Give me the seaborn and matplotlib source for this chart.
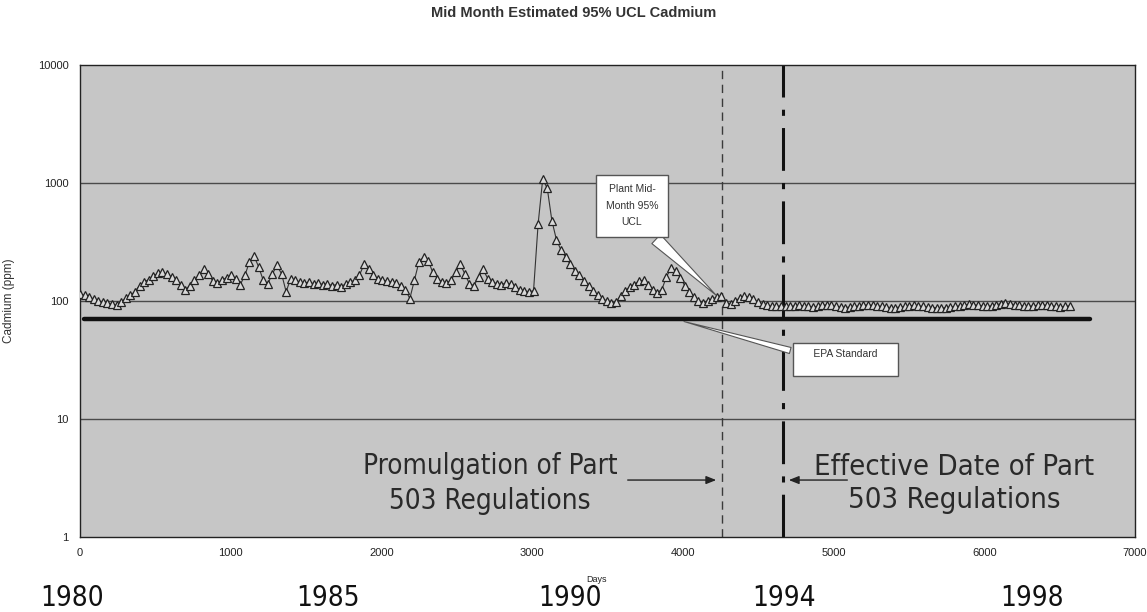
import numpy as np
import pandas as pd
import matplotlib
matplotlib.use('Agg')
import matplotlib.pyplot as plt
import seaborn as sns

# ── datos ────────────────────────────────────────────────────────────────
# Cadmio estimado (UCL 95%) a mitad de cada mes
cadmio_ppm = [
    115, 112, 108, 104, 100, 98, 96, 94, 92, 98,
    106, 112, 120, 135, 145, 152, 162, 172, 175, 168,
    160, 150, 138, 125, 135, 150, 165, 185, 170, 148,
    142, 150, 158, 165, 155, 138, 165, 215, 240, 195,
    150, 140, 170, 200, 170, 120, 155, 150, 145, 142,
    145, 140, 142, 138, 140, 135, 138, 132, 140, 145,
    150, 165, 205, 185, 165, 155, 150, 148, 145, 142,
    135, 125, 105, 150, 215, 235, 220, 175, 155, 145,
    142, 150, 175, 205, 170, 140, 135, 160, 185, 155,
    145, 140, 138, 142, 140, 132, 125, 122, 120, 122,
    450, 1080, 900, 480, 330, 270, 235, 205, 180, 165,
    148, 135, 122, 112, 105, 100, 97, 98, 110, 122,
    132, 138, 148, 150, 138, 125, 118, 125, 160, 190,
    180, 158, 135, 120, 108, 100, 97, 100, 104, 108,
    110, 96, 95, 100, 106, 110, 108, 103, 98, 95,
    92, 90, 90, 91, 90, 90, 91, 92, 91, 90,
    89, 90, 92, 93, 92, 90, 89, 88, 89, 90,
    91, 92, 93, 92, 91, 90, 89, 88, 88, 89,
    90, 91, 92, 91, 90, 89, 88, 88, 87, 88,
    89, 90, 91, 92, 94, 93, 92, 91, 90, 91,
    93, 95, 96, 95, 93, 92, 91, 90, 91, 92,
    93, 92, 91, 90, 89, 90, 91,
]
dias_por_mes = 30.4
dias = np.arange(len(cadmio_ppm)) * dias_por_mes

epa_estandar = 70
epa_dias = [30, 6700]
dia_promulgacion = 4260
dia_vigencia = 4665

ticks_x = [0, 1000, 2000, 3000, 4000, 5000, 6000, 7000]
ticks_y = [1, 10, 100, 1000, 10000]
anios = ['1980', '1985', '1990', '1994', '1998']
anios_x = [0.063, 0.286, 0.497, 0.684, 0.900]

df = pd.DataFrame({'Days': dias, 'Cadmium': cadmio_ppm})

# ── estilo ───────────────────────────────────────────────────────────────
sns.set_theme(style='white')
plt.rcParams['font.family'] = ['Liberation Sans', 'DejaVu Sans']
NARROW = ['DejaVu Sans']
FONDO = '#c6c6c6'

fig = plt.figure(figsize=(11.47, 6.12), dpi=100)
fig.patch.set_facecolor('white')
ax = fig.add_axes([0.0697, 0.1225, 0.9198, 0.7713])
ax.set_facecolor(FONDO)

ax.set_yscale('log')
ax.set_ylim(1, 10000)
ax.set_xlim(0, 7000)

for v in [10, 100, 1000]:
    ax.axhline(v, color='#4a4a4a', lw=1.0, zorder=1)

# línea estándar EPA
ax.plot(epa_dias, [epa_estandar, epa_estandar], color='#111111', lw=3.2, zorder=3)

# serie
sns.lineplot(data=df, x='Days', y='Cadmium', ax=ax, color='#333333', lw=0.8,
             marker='^', markersize=5.5, markerfacecolor='#d8d8d8',
             markeredgecolor='#222222', markeredgewidth=0.9, zorder=4)

# líneas verticales
ax.axvline(dia_promulgacion, color='#3a3a3a', lw=1.0, ls=(0, (6, 4)), zorder=2)
ax.axvline(dia_vigencia, color='#111111', lw=2.2, ls=(0, (14, 4, 2, 4)), zorder=2)

# globos
ax.annotate('Plant Mid-\nMonth 95%\nUCL', xy=(4234, 108), xytext=(3663, 640),
            ha='center', va='center', fontsize=7.5, color='#333333', linespacing=1.8,
            bbox=dict(boxstyle='square,pad=0.9', fc='white', ec='#555555', lw=1),
            arrowprops=dict(arrowstyle='wedge,tail_width=1.2,shrink_factor=0.5',
                            fc='white', ec='#555555', lw=0.8,
                            relpos=(0.72, 0.0)), zorder=6)
ax.annotate('     EPA Standard     \n ', xy=(3990, 68), xytext=(5080, 32),
            ha='center', va='center', fontsize=7.5, color='#333333',
            bbox=dict(boxstyle='square,pad=0.55', fc='white', ec='#555555', lw=1),
            arrowprops=dict(arrowstyle='wedge,tail_width=0.6,shrink_factor=0.5',
                            fc='white', ec='#555555', lw=0.8,
                            relpos=(0.0, 0.8)), zorder=6)

# textos de regulación
ax.text(2720, 2.85, 'Promulgation of Part\n503 Regulations', ha='center', va='center',
        fontsize=20, color='#2a2a2a', family=NARROW, fontstretch='condensed',
        linespacing=1.3, zorder=5)
ax.text(5800, 2.85, 'Effective Date of Part\n503 Regulations', ha='center', va='center',
        fontsize=21, color='#2a2a2a', family=NARROW, fontstretch='condensed',
        linespacing=1.25, zorder=5)
ax.annotate('', xy=(dia_promulgacion - 20, 3.04), xytext=(3616, 3.04),
            arrowprops=dict(arrowstyle='-|>,head_length=0.5,head_width=0.2',
                            color='#222222', lw=1.0))
ax.annotate('', xy=(dia_vigencia + 20, 3.04), xytext=(5110, 3.04),
            arrowprops=dict(arrowstyle='-|>,head_length=0.5,head_width=0.2',
                            color='#222222', lw=1.0))

# ejes
ax.set_xticks(ticks_x)
ax.set_xticklabels([str(t) for t in ticks_x], fontsize=8, color='#222222')
ax.set_yticks(ticks_y)
ax.set_yticklabels([str(t) for t in ticks_y], fontsize=8, color='#222222')
ax.minorticks_off()
ax.tick_params(axis='both', direction='out', length=4, width=0.8, colors='#222222',
               labelcolor='#222222', pad=4)
for sp in ax.spines.values():
    sp.set_edgecolor('#222222'); sp.set_linewidth(1.0)

ax.set_xlabel('Days', fontsize=6.5, color='#222222')
ax.set_ylabel('Cadmium (ppm)', fontsize=8.5, color='#333333')
ax.xaxis.set_label_coords(0.49, -0.08)
ax.yaxis.set_label_coords(-0.062, 0.5)

fig.text(0.5, 0.978, 'Mid Month Estimated 95% UCL Cadmium', ha='center', va='center',
         fontsize=10.5, fontweight='bold', color='#333333')

for a, xa in zip(anios, anios_x):
    fig.text(xa, 0.023, a, ha='center', va='center', fontsize=20, color='#111111',
             family=NARROW, fontstretch='condensed')

fig.savefig('out.png', dpi=100, facecolor='white')
